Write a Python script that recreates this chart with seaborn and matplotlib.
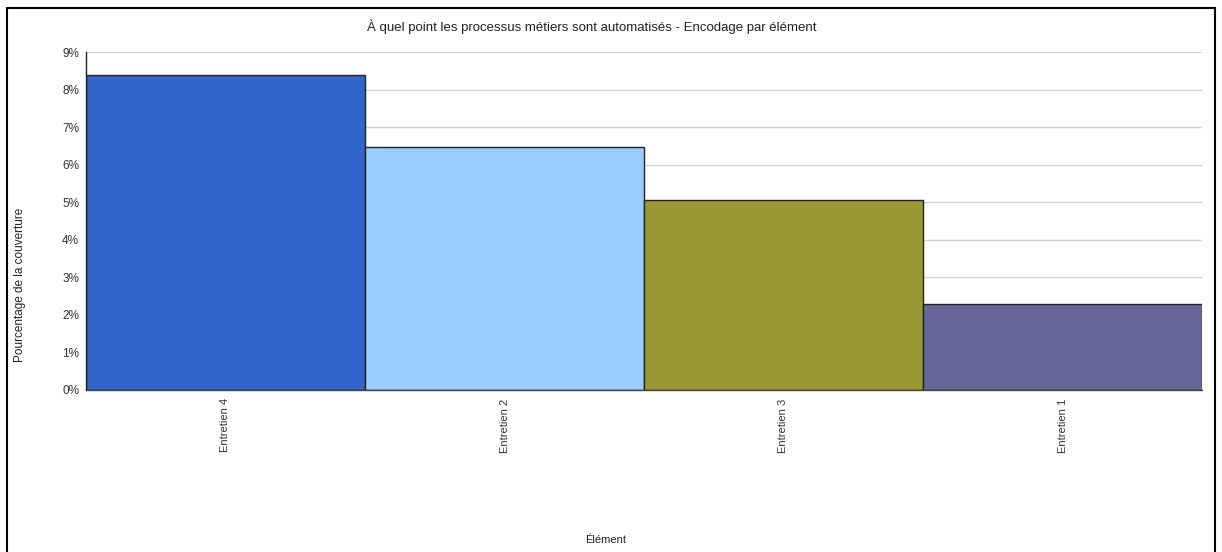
import matplotlib
matplotlib.use("Agg")
import matplotlib.pyplot as plt
from matplotlib.patches import Rectangle
from matplotlib.ticker import FuncFormatter, MultipleLocator
import seaborn as sns
import pandas as pd

# Coverage share per interview, in percent
elements = ["Entretien 4", "Entretien 2", "Entretien 3", "Entretien 1"]
coverage = [8.39, 6.47, 5.07, 2.29]
colors = ["#3366CC", "#99CCFF", "#999933", "#666699"]

title = "À quel point les processus métiers sont automatisés - Encodage par élément"
x_label = "Élément"
y_label = "Pourcentage de la couverture"

sns.set_theme(style="white")
plt.rcParams["font.family"] = ["Liberation Sans", "DejaVu Sans"]

df = pd.DataFrame({"element": elements, "coverage": coverage})

fig = plt.figure(figsize=(12.22, 5.52), dpi=100)
fig.patch.set_facecolor("white")
ax = fig.add_axes([86 / 1222, 1 - 390 / 552, (1202 - 86) / 1222, (390 - 52) / 552])

sns.barplot(data=df, x="element", y="coverage", hue="element",
            palette=colors, legend=False, width=1.0, ax=ax,
            edgecolor="#222222", linewidth=1.0, saturation=1)

ax.set_xlim(-0.5, len(elements) - 0.5)
ax.set_ylim(0, 9)
ax.yaxis.set_major_locator(MultipleLocator(1))
ax.yaxis.set_major_formatter(FuncFormatter(lambda v, _: f"{v:.0f}%"))
ax.grid(axis="y", color="#d0d0d0", linewidth=1.0)
ax.set_axisbelow(True)
ax.tick_params(axis="y", length=0, labelsize=8.5, colors="#333333", pad=5)
ax.tick_params(axis="x", length=0, labelsize=8, colors="#333333", pad=6)
for lbl in ax.get_xticklabels():
    lbl.set_rotation(90)
    lbl.set_va("top")
ax.set_xlabel("")
ax.set_ylabel("")
for side in ["top", "right"]:
    ax.spines[side].set_visible(False)
ax.spines["left"].set_color("#222222")
ax.spines["bottom"].set_color("#444444")
ax.spines["left"].set_linewidth(1.0)
ax.spines["bottom"].set_linewidth(1.0)

fig.text(592 / 1222, 1 - 27 / 552, title, ha="center", va="center",
         fontsize=9.5, color="#222222")
fig.text(606 / 1222, 1 - 540 / 552, x_label, ha="center", va="center",
         fontsize=8, color="#222222")
fig.text(20 / 1222, 1 - 285 / 552, y_label, ha="center", va="center",
         rotation=90, fontsize=8.5, color="#222222")

# Outer frame around the chart
fig.patches.append(Rectangle((7 / 1222, -0.05), (1215 - 7) / 1222, 1.05 - 8 / 552,
                             transform=fig.transFigure, fill=False,
                             edgecolor="black", linewidth=1.5))

fig.savefig("out.png", dpi=100, facecolor="white")
